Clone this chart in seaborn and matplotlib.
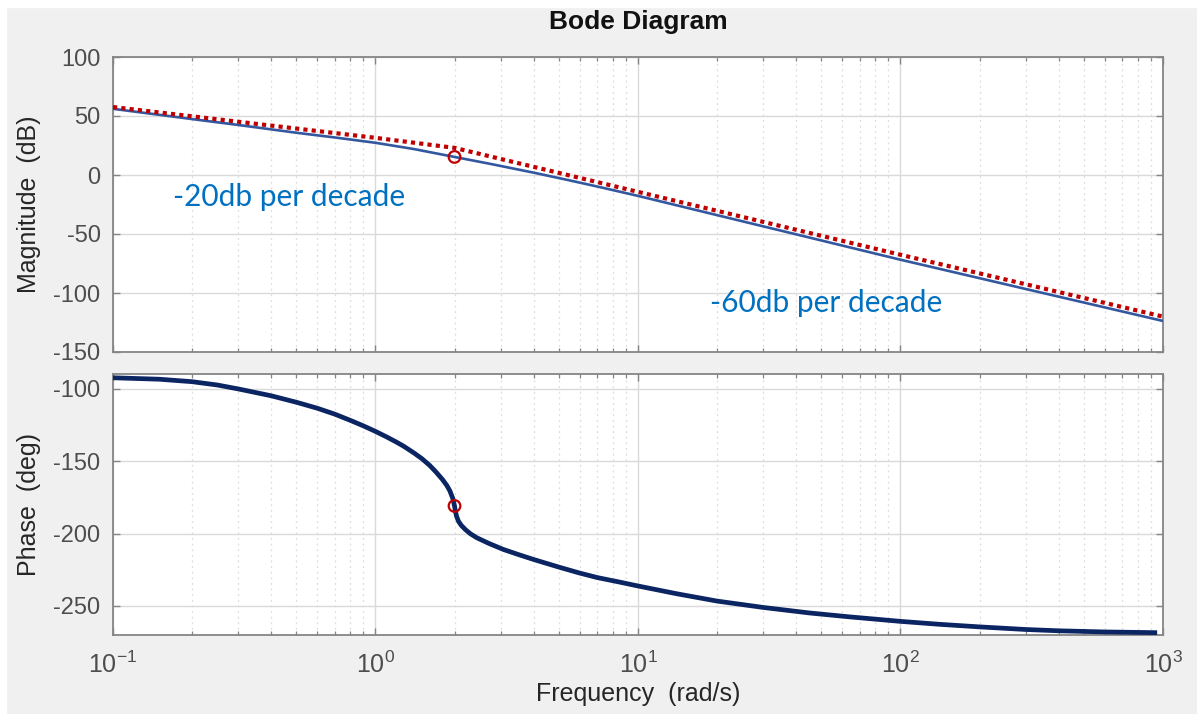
import numpy as np
import pandas as pd
import matplotlib
matplotlib.use("Agg")
import matplotlib.pyplot as plt
from matplotlib.patches import Rectangle
from matplotlib.ticker import LogLocator, FixedLocator, NullFormatter, NullLocator
import seaborn as sns

# ---- data ----
mag_freq = [0.1, 0.2, 0.3, 0.5, 0.7, 1.0, 1.4, 2.0, 2.8, 4.0, 5.5, 7.17, 10,
            20, 50, 100, 300, 1000]
mag_db = [56.1, 47.4, 42.4, 35.8, 31.8, 27.3, 22.0, 15.3, 9.0, 2.0, -4.6, -10.3,
          -17.7, -34.0, -55.5, -71.8, -96.6, -123.7]

asym_freq = [0.1, 1.0, 2.0, 10, 100, 1000]
asym_db = [57.6, 31.5, 23.0, -14.3, -67.6, -120.0]

phase_freq = [0.1, 0.15, 0.2, 0.25, 0.3, 0.4, 0.5, 0.6, 0.7, 0.8, 0.9, 1.0, 1.1,
              1.2, 1.28, 1.4, 1.5, 1.61, 1.7, 1.8, 1.87, 1.92, 1.97, 2.0, 2.015,
              2.035, 2.07, 2.12, 2.2, 2.3, 2.43, 2.7, 3.07, 3.5, 4.0, 5.0, 6.0,
              7.0, 8.5, 10, 14, 20, 30, 45, 64, 100, 140, 200, 300, 400, 600, 950]
phase_deg = [-92.6, -93.6, -95.3, -97.6, -100.3, -105.0, -109.5, -113.6, -117.7,
             -121.9, -125.8, -129.6, -133.3, -136.9, -139.8, -144.4, -148.3,
             -153.1, -157.6, -162.8, -166.9, -170.6, -175.8, -181.0, -184.5,
             -188.0, -191.5, -194.3, -197.3, -200.2, -202.9, -206.8, -211.0,
             -214.5, -217.9, -223.2, -227.3, -230.4, -233.5, -236.2, -241.5,
             -246.6, -251.0, -254.8, -257.5, -260.6, -262.6, -264.4, -266.2,
             -267.1, -267.9, -268.4]

marker_freq = [2.0]
marker_mag = [15.3]
marker_phase = [-181.0]

mag_yticks = [-150, -100, -50, 0, 50, 100]
phase_yticks = [-250, -200, -150, -100]
x_decades = [-1, 0, 1, 2, 3]

title = "Bode Diagram"
mag_label = "Magnitude  (dB)"
phase_label = "Phase  (deg)"
x_label = "Frequency  (rad/s)"
note1 = "-20db per decade"
note2 = "-60db per decade"

# ---- style ----
sns.set_theme(style="whitegrid")
plt.rcParams["font.family"] = ["Liberation Sans", "DejaVu Sans"]
plt.rcParams["mathtext.fontset"] = "custom"
plt.rcParams["mathtext.rm"] = "Liberation Sans"
plt.rcParams["mathtext.it"] = "Liberation Sans"
plt.rcParams["mathtext.default"] = "regular"
plt.rcParams["lines.solid_capstyle"] = "butt"

W, H = 1197, 714
fig = plt.figure(figsize=(W / 100, H / 100), dpi=100)
fig.patch.set_facecolor("#F0F0F0")
fig.add_artist(Rectangle((0, 1 - 7 / H), 1, 7 / H, transform=fig.transFigure,
                         color="white", zorder=0))
fig.add_artist(Rectangle((0, 0), 6 / W, 1, transform=fig.transFigure,
                         color="white", zorder=0))

left = 113 / W
width = (1163 - 113) / W
ax1 = fig.add_axes([left, 1 - 352 / H, width, 295 / H])
ax2 = fig.add_axes([left, 1 - 635 / H, width, 261 / H])

tick_color = "#4D4D4D"
spine_color = "#858585"

df_mag = pd.DataFrame({"w": mag_freq, "m": mag_db})
df_asym = pd.DataFrame({"w": asym_freq, "m": asym_db})
df_ph = pd.DataFrame({"w": phase_freq, "p": phase_deg})

sns.lineplot(data=df_mag, x="w", y="m", ax=ax1, color="#3358A0", linewidth=1.9,
             zorder=3)
sns.lineplot(data=df_asym, x="w", y="m", ax=ax1, color="#C00000", linewidth=3.0,
             linestyle=(0, (1, 1)), zorder=4)
sns.scatterplot(x=marker_freq, y=marker_mag, ax=ax1, marker="o", s=70,
                facecolors="none", edgecolors="#C00000", linewidth=1.6, zorder=5)

sns.lineplot(data=df_ph, x="w", y="p", ax=ax2, color="#0B2462", linewidth=3.4,
             zorder=3)
sns.scatterplot(x=marker_freq, y=marker_phase, ax=ax2, marker="o", s=70,
                facecolors="none", edgecolors="#C00000", linewidth=1.6, zorder=5)

for ax in (ax1, ax2):
    ax.set_xscale("log")
    ax.set_xlim(0.1, 1000)
    ax.set_facecolor("white")
    ax.xaxis.set_major_locator(FixedLocator([10.0 ** d for d in x_decades]))
    ax.xaxis.set_minor_locator(LogLocator(base=10, subs=np.arange(2, 10), numticks=20))
    ax.xaxis.set_minor_formatter(NullFormatter())
    ax.yaxis.set_minor_locator(NullLocator())
    ax.grid(True, which="major", color="#DADADA", linewidth=1.0, linestyle="-")
    ax.grid(True, which="minor", axis="x", color="#DDDDDD", linewidth=0.9,
            linestyle=(0, (1.5, 3)))
    ax.tick_params(which="both", direction="in", top=True, right=True,
                   bottom=True, left=True, colors=spine_color,
                   labelcolor=tick_color, labelsize=17)
    ax.tick_params(which="major", length=5, width=1.0, pad=9)
    ax.tick_params(which="minor", length=3, width=0.9)
    for s in ax.spines.values():
        s.set_color(spine_color)
        s.set_linewidth(1.3)
    ax.set_axisbelow(True)

ax1.set_ylim(-150, 100)
ax1.set_yticks(mag_yticks)
ax1.set_yticklabels([str(v) for v in mag_yticks])
ax1.set_xticklabels([])
ax1.set_xlabel("")
ax1.set_ylabel(mag_label, fontsize=18, color="#262626")

ax2.set_ylim(-270, -90)
ax2.set_yticks(phase_yticks)
ax2.set_yticklabels([str(v) for v in phase_yticks])
ax2.set_xticklabels([r"$10^{%d}$" % d for d in x_decades])
ax2.tick_params(axis="x", which="major", pad=12, labelsize=18)
ax2.set_xlabel(x_label, fontsize=18, color="#262626", labelpad=3)
ax2.set_ylabel(phase_label, fontsize=18, color="#262626")

ax1.yaxis.set_label_coords(-0.069, 0.5)
ax2.yaxis.set_label_coords(-0.069, 0.5)

fig.text(left + width / 2, 1 - 22 / H, title, ha="center", va="center",
         fontsize=19, fontweight="bold", color="#111111")

ax1.text(0.169, -18.8, note1, ha="left", va="center", fontsize=21.5,
         color="#0070C0", family=["Lato", "DejaVu Sans"], zorder=6)
ax1.text(18.8, -108.8, note2, ha="left", va="center", fontsize=21.5,
         color="#0070C0", family=["Lato", "DejaVu Sans"], zorder=6)

fig.savefig("out.png", dpi=100, facecolor=fig.get_facecolor())
